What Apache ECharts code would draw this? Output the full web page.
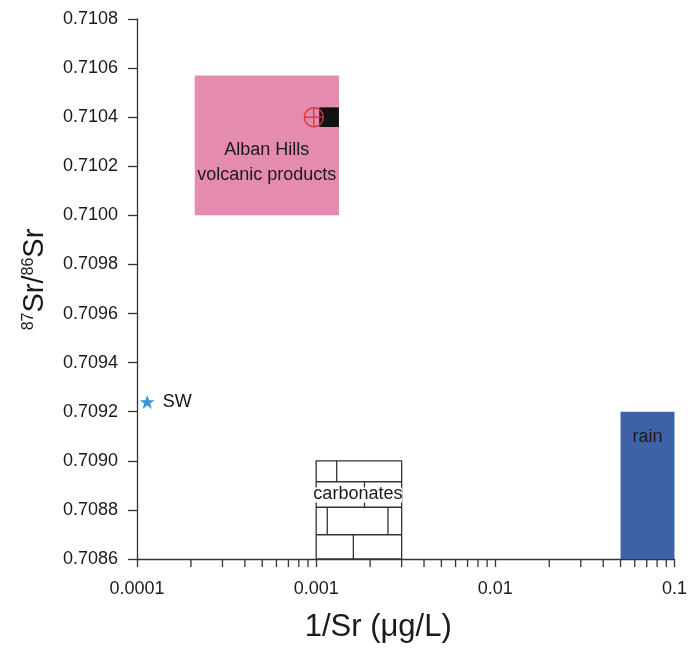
<!DOCTYPE html>
<html><head><meta charset="utf-8">
<script src="https://cdn.jsdelivr.net/npm/echarts@6/dist/echarts.min.js"></script>
<style>html,body{margin:0;padding:0;background:#fff}#c{width:690px;height:648px}</style>
</head><body><div id="c"></div>
<script>
// ---- data ----
const xTickLabels = ['0.0001', '0.001', '0.01', '0.1'];
const yTickLabels = ['0.7086','0.7088','0.7090','0.7092','0.7094','0.7096','0.7098','0.7100','0.7102','0.7104','0.7106','0.7108'];
const xMinorTicks = [0.0002,0.0003,0.0004,0.0005,0.0006,0.0007,0.0008,0.0009,
                     0.002,0.003,0.004,0.005,0.006,0.007,0.008,0.009,
                     0.02,0.03,0.04,0.05,0.06,0.07,0.08,0.09];
// boxes: [x0, x1, y0, y1]
const albanHillsBox = [0.00021, 0.00134, 0.7100, 0.71057];
const albanSampleRange = [0.00104, 0.00134, 0.71036, 0.71044];
const albanSamplePoint = [0.00097, 0.7104];
const seawaterPoint = [0.000114, 0.70924];
const carbonatesBox = [0.001, 0.003, 0.7086, 0.7090];
const rainBox = [0.05, 0.1, 0.7086, 0.7092];
const labels = { alban: 'Alban Hills\nvolcanic products', carb: 'carbonates', rain: 'rain', sw: 'SW' };

const FONT = '"Liberation Sans", Arial, Helvetica, sans-serif';
const yMin = +yTickLabels[0], yMax = +yTickLabels[yTickLabels.length - 1];
const xMin = +xTickLabels[0], xMax = +xTickLabels[xTickLabels.length - 1];

function boxRect(api) {
  const p0 = api.coord([api.value(0), api.value(3)]);
  const p1 = api.coord([api.value(1), api.value(2)]);
  return { x: p0[0], y: p0[1], width: p1[0] - p0[0], height: p1[1] - p0[1] };
}

const chart = echarts.init(document.getElementById('c'), null, { renderer: 'canvas' });
const axisColor = '#333';
chart.setOption({
  animation: false,
  backgroundColor: '#fff',
  grid: { left: 137, right: 12, top: 19, bottom: 88 },
  xAxis: {
    type: 'log', logBase: 10, min: xMin, max: xMax,
    splitLine: { show: false },
    axisLine: { lineStyle: { color: axisColor, width: 1.3 } },
    axisTick: { length: 8, lineStyle: { color: axisColor, width: 1.3 } },
    axisLabel: { fontFamily: FONT, fontSize: 18, color: '#1a1a1a', margin: 21,
      formatter: v => xTickLabels.find(t => Math.abs(Math.log10(+t) - Math.log10(v)) < 1e-6) || '' },
    name: '1/Sr (μg/L)', nameLocation: 'middle', nameGap: 53,
    nameTextStyle: { fontFamily: FONT, fontSize: 31, color: '#1a1a1a', padding: [0, 55, 0, 0] }
  },
  yAxis: {
    type: 'value', min: yMin, max: yMax, interval: 0.0002,
    splitLine: { show: false },
    axisLine: { show: true, lineStyle: { color: axisColor, width: 1.3 } },
    axisTick: { show: true, length: 9, lineStyle: { color: axisColor, width: 1.3 } },
    axisLabel: { fontFamily: FONT, fontSize: 18, color: '#1a1a1a', margin: 19,
      formatter: v => v.toFixed(4) },
    name: '{sup|87}{big|Sr/}{sup|86}{big|Sr}', nameLocation: 'middle', nameRotate: 90, nameGap: 88,
    nameTextStyle: {
      fontFamily: FONT, color: '#1a1a1a', padding: [0, 0, 0, 19],
      rich: {
        big: { fontFamily: FONT, fontSize: 29, color: '#1a1a1a', verticalAlign: 'bottom', lineHeight: 32 },
        sup: { fontFamily: FONT, fontSize: 16, color: '#1a1a1a', verticalAlign: 'bottom', lineHeight: 32, padding: [0, 0, 12, 0] }
      }
    }
  },
  series: [
    { // minor ticks of log axis
      type: 'custom', clip: false, silent: true, z: 1,
      data: xMinorTicks.map(v => [v]),
      encode: { x: 0 },
      renderItem: (params, api) => {
        const p = api.coord([api.value(0), yMin]);
        return { type: 'line', shape: { x1: p[0], y1: p[1], x2: p[0], y2: p[1] + 8 },
          style: { stroke: axisColor, lineWidth: 1.3 } };
      }
    },
    { // Alban Hills box
      type: 'custom', clip: false, z: 2,
      data: [albanHillsBox], encode: { x: [0, 1], y: [2, 3] },
      renderItem: (params, api) => {
        const r = boxRect(api);
        return { type: 'group', children: [
          { type: 'rect', shape: r, style: { fill: '#E58BAF' } },
          { type: 'text', x: r.x + r.width / 2, y: r.y + r.height * 0.624,
            style: { text: labels.alban, fontFamily: FONT, fontSize: 18, lineHeight: 25,
              fill: '#1a1a1a', align: 'center', verticalAlign: 'middle' } }
        ] };
      }
    },
    { // sample range (black)
      type: 'custom', clip: false, z: 3,
      data: [albanSampleRange], encode: { x: [0, 1], y: [2, 3] },
      renderItem: (params, api) => ({ type: 'rect', shape: boxRect(api), style: { fill: '#111' } })
    },
    { // crossed circle sample
      type: 'custom', clip: false, z: 4,
      data: [albanSamplePoint], encode: { x: 0, y: 1 },
      renderItem: (params, api) => {
        const p = api.coord([api.value(0), api.value(1)]);
        const R = 9.5;
        const st = { stroke: '#D53A3C', lineWidth: 1.4, fill: null };
        return { type: 'group', children: [
          { type: 'circle', shape: { cx: p[0], cy: p[1], r: R }, style: st },
          { type: 'line', shape: { x1: p[0] - R, y1: p[1], x2: p[0] + R, y2: p[1] }, style: st },
          { type: 'line', shape: { x1: p[0], y1: p[1] - R, x2: p[0], y2: p[1] + R }, style: st }
        ] };
      }
    },
    { // carbonates
      type: 'custom', clip: false, z: 3,
      data: [carbonatesBox], encode: { x: [0, 1], y: [2, 3] },
      renderItem: (params, api) => {
        const r = boxRect(api);
        const st = { stroke: '#333', lineWidth: 1.3, fill: null };
        const rows = [0, 0.213, 0.473, 0.753, 1];
        const verts = [[0.24], [0.565], [0.13, 0.84], [0.435]];
        const ch = [{ type: 'rect', shape: r, style: { stroke: '#333', lineWidth: 1.3, fill: '#fff' } }];
        rows.slice(1, 4).forEach(f => ch.push({ type: 'line',
          shape: { x1: r.x, y1: r.y + f * r.height, x2: r.x + r.width, y2: r.y + f * r.height }, style: st }));
        verts.forEach((vs, i) => vs.forEach(f => ch.push({ type: 'line',
          shape: { x1: r.x + f * r.width, y1: r.y + rows[i] * r.height, x2: r.x + f * r.width, y2: r.y + rows[i + 1] * r.height }, style: st })));
        const cx = r.x + r.width / 2 - 1, cy = r.y + r.height * 0.343;
        ch.push({ type: 'rect', shape: { x: cx - 44, y: cy - 7, width: 88, height: 15 }, style: { fill: '#fff' } });
        ch.push({ type: 'text', x: cx, y: cy,
          style: { text: labels.carb, fontFamily: FONT, fontSize: 18, fill: '#1a1a1a',
            align: 'center', verticalAlign: 'middle' } });
        return { type: 'group', children: ch };
      }
    },
    { // rain
      type: 'custom', clip: false, z: 3,
      data: [rainBox], encode: { x: [0, 1], y: [2, 3] },
      renderItem: (params, api) => {
        const r = boxRect(api);
        return { type: 'group', children: [
          { type: 'rect', shape: r, style: { fill: '#3D63A6' } },
          { type: 'text', x: r.x + r.width / 2, y: r.y + 25,
            style: { text: labels.rain, fontFamily: FONT, fontSize: 18, fill: '#1a1a1a',
              align: 'center', verticalAlign: 'middle' } }
        ] };
      }
    },
    { // seawater
      type: 'scatter', z: 5,
      data: [seawaterPoint],
      symbol: 'path://M12,0 L14.9,8.1 L23.4,8.1 L16.5,13.1 L19.1,21.2 L12,16.2 L4.9,21.2 L7.5,13.1 L0.6,8.1 L9.1,8.1 Z',
      symbolSize: 15, symbolKeepAspect: true,
      itemStyle: { color: '#3F95D4', opacity: 1 },
      label: { show: true, position: 'right', distance: 8, formatter: labels.sw,
        fontFamily: FONT, fontSize: 18, color: '#111' }
    }
  ]
});
</script>
</body></html>
